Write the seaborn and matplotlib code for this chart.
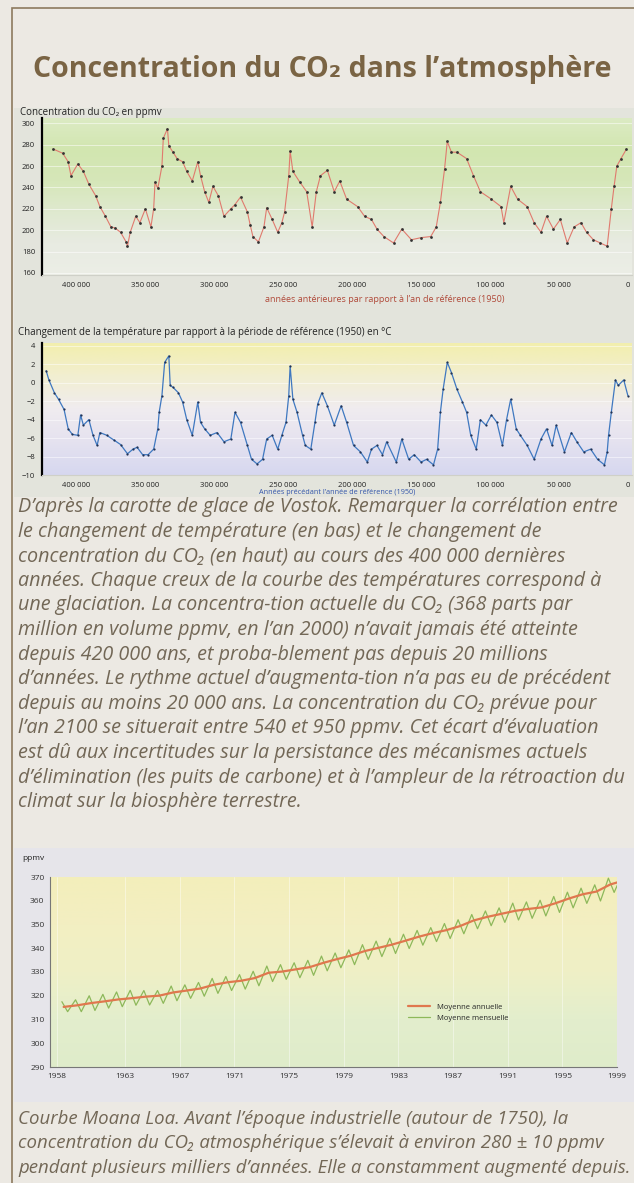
import numpy as np
import pandas as pd
import seaborn as sns
import matplotlib.pyplot as plt
from matplotlib.colors import LinearSegmentedColormap
from matplotlib.patches import Rectangle

sns.set_style("white")
plt.rcParams['font.family'] = ['Open Sans', 'DejaVu Sans']

# --- Vostok : CO2 (milliers d'années avant 1950, ppmv)
co2_age = [417, 410, 406, 404, 399, 395, 391, 386, 383, 379, 375, 372, 368, 364, 363, 361,
           357, 354, 350, 346, 344, 343, 341, 338, 337, 334, 333, 330, 327, 323, 320, 316,
           312, 310, 307, 304, 301, 297, 293, 288, 285, 281, 276, 274, 272, 268, 264, 262,
           258, 254, 251, 249, 246, 245, 243, 238, 233, 229, 226, 223, 218, 213, 209, 204,
           196, 191, 186, 182, 177, 170, 164, 157, 150, 143, 139, 136, 133, 131, 128, 124,
           117, 112, 107, 99, 92, 90, 85, 80, 73, 68, 63, 59, 54, 49, 44, 39,
           34, 30, 25, 20, 15, 12, 10, 8, 5, 1]
co2_ppmv = [276, 272, 264, 251, 262, 255, 243, 232, 222, 213, 203, 202, 198, 189, 185, 198,
            213, 207, 220, 203, 220, 245, 239, 260, 286, 295, 279, 273, 267, 264, 255, 246,
            264, 251, 236, 226, 241, 232, 213, 220, 224, 231, 217, 205, 194, 189, 203, 221,
            210, 198, 207, 217, 251, 274, 255, 245, 236, 203, 236, 251, 256, 236, 246, 229,
            222, 213, 210, 201, 194, 188, 201, 191, 193, 194, 203, 226, 257, 283, 273, 273,
            267, 251, 236, 229, 222, 207, 241, 229, 222, 207, 198, 213, 201, 210, 188, 203,
            207, 198, 191, 188, 185, 220, 241, 260, 267, 276]

# --- Vostok : écart de température (°C)
temp_age = [422, 420, 416, 413, 409, 406, 403, 399, 397, 395, 391, 388, 385, 383, 378, 373,
            368, 363, 359, 356, 352, 348, 344, 341, 340, 338, 336, 333, 332, 330, 326, 323,
            320, 316, 312, 310, 307, 303, 298, 293, 288, 285, 281, 276, 273, 269, 265, 262,
            258, 254, 251, 248, 246, 245, 243, 240, 236, 234, 230, 227, 225, 222, 218, 213,
            208, 204, 199, 194, 189, 186, 182, 178, 175, 168, 164, 159, 155, 150, 146, 141,
            138, 136, 134, 131, 128, 124, 120, 117, 114, 110, 107, 103, 99, 95, 91, 88,
            85, 81, 78, 73, 68, 63, 59, 55, 52, 46, 41, 37, 32, 27, 22, 17,
            15, 14, 12, 9, 7, 3, 0]
temp_delta = [1.3, 0.3, -1.1, -1.8, -2.9, -5.0, -5.6, -5.7, -3.5, -4.6, -4.0, -5.7, -6.8, -5.4, -5.7, -6.2,
              -6.7, -7.7, -7.2, -7.0, -7.8, -7.8, -7.2, -5.0, -3.2, -1.4, 2.2, 2.9, -0.3, -0.5, -1.1, -2.1,
              -4.0, -5.7, -2.1, -4.3, -5.0, -5.7, -5.4, -6.4, -6.1, -3.2, -4.3, -6.8, -8.3, -8.8, -8.3, -6.1,
              -5.7, -7.2, -5.7, -4.3, -1.4, 1.8, -1.8, -3.2, -5.7, -6.8, -7.2, -4.3, -2.3, -1.1, -2.5, -4.6,
              -2.5, -4.3, -6.8, -7.5, -8.6, -7.2, -6.8, -7.8, -6.4, -8.6, -6.1, -8.3, -7.8, -8.6, -8.3, -8.9,
              -7.2, -3.2, -0.7, 2.2, 1.1, -0.7, -2.1, -3.2, -5.7, -7.2, -4.0, -4.6, -3.5, -4.3, -6.8, -4.0,
              -1.8, -5.0, -5.7, -6.8, -8.3, -6.1, -5.0, -6.8, -4.6, -7.5, -5.4, -6.4, -7.5, -7.2, -8.3, -8.9,
              -7.5, -5.7, -3.2, 0.3, -0.3, 0.3, -1.4]

# --- Mauna Loa (ppmv)
ml_years = list(range(1958, 2000))
ml_annual = [315.3, 315.98, 316.91, 317.64, 318.45, 318.99, 319.62, 320.04, 321.37, 322.18,
             323.05, 324.62, 325.68, 326.32, 327.46, 329.68, 330.19, 331.12, 332.03, 333.84,
             335.41, 336.84, 338.76, 340.12, 341.48, 343.15, 344.87, 346.35, 347.61, 349.31,
             351.69, 353.20, 354.45, 355.70, 356.54, 357.21, 358.96, 360.97, 362.74, 363.88,
             366.84, 368.54]
ml_may = [317.5, 318.3, 320.0, 320.6, 321.6, 322.3, 322.2, 322.2, 324.1, 324.6,
          325.6, 327.3, 328.1, 328.9, 330.3, 332.5, 333.1, 333.9, 334.9, 336.7,
          338.0, 339.3, 341.5, 343.0, 344.2, 345.9, 347.5, 348.7, 350.4, 352.0,
          354.2, 355.7, 357.0, 359.0, 359.5, 360.2, 361.8, 363.6, 365.3, 366.7,
          369.5, 371.0]
ml_oct = [313.3, 313.3, 313.8, 314.8, 315.4, 316.0, 316.1, 316.8, 317.9, 318.9,
          319.8, 321.0, 322.2, 322.8, 324.2, 326.0, 326.9, 327.6, 328.6, 330.5,
          331.8, 333.1, 335.3, 336.5, 337.8, 339.9, 341.3, 342.8, 344.1, 346.1,
          348.2, 349.5, 350.9, 351.9, 352.6, 353.6, 355.1, 357.0, 358.9, 359.9,
          363.5, 364.6]
ml_ticks = [1958, 1963, 1967, 1971, 1975, 1979, 1983, 1987, 1991, 1995, 1999]

W, H = 634, 1183
fig = plt.figure(figsize=(W / 100, H / 100), dpi=100)
fig.patch.set_facecolor('#ece9e3')

def fx(x):
    return x / W

def fy(y):
    return 1 - y / H

def axes_px(x0, y0, x1, y1):
    return fig.add_axes([fx(x0), fy(y1), fx(x1 - x0), (y1 - y0) / H])

def gradient(ax, colors):
    # couleurs données de haut en bas
    cmap = LinearSegmentedColormap.from_list('bg', colors)
    g = np.linspace(0, 1, 256).reshape(-1, 1)
    ax.imshow(g, cmap=cmap, aspect='auto', extent=[0, 1, 0, 1], origin='upper',
              transform=ax.transAxes, zorder=0)

title_col = '#7a6444'
text_col = '#726756'

# cadre et fonds des images (derrière les axes)
fig.add_artist(Rectangle((fx(12), -0.01), 1, fy(8) + 0.01, fill=False, edgecolor='#8c7a5e',
                         lw=1.2, transform=fig.transFigure, zorder=-2))
fig.add_artist(Rectangle((fx(14), fy(497)), fx(620), (497 - 108) / H, facecolor='#e3e4dc',
                         edgecolor='none', transform=fig.transFigure, zorder=-1))
fig.add_artist(Rectangle((fx(14), fy(1102)), fx(620), (1102 - 848) / H, facecolor='#e6e5ea',
                         edgecolor='none', transform=fig.transFigure, zorder=-1))

fig.text(fx(322), fy(70), "Concentration du CO₂ dans l’atmosphère", ha='center', va='center',
         fontsize=20.5, fontweight='bold', color=title_col)

# ---- CO2 Vostok
ax1 = axes_px(42, 118, 632, 275)
gradient(ax1, ['#dcebc4', '#d2e6b0', '#d6e7b9', '#dfe9cf', '#e8ebe2', '#eceee6'])
co2 = pd.DataFrame({'age': np.array(co2_age) * 1000, 'ppmv': co2_ppmv})
sns.lineplot(data=co2, x='age', y='ppmv', ax=ax1, color='#e07a6e', lw=0.8,
             marker='o', markersize=2, markerfacecolor='#333333', markeredgecolor='none',
             sort=False)
ax1.set_xlim(425000, -3000)
ax1.set_ylim(158, 305)
ax1.set_yticks(range(160, 301, 20))
ax1.set_xticks(range(400000, -1, -50000))
ax1.set_xticklabels(['400 000', '350 000', '300 000', '250 000', '200 000', '150 000',
                     '100 000', '50 000', '0'])
for yv in range(160, 301, 20):
    ax1.axhline(yv, color='white', lw=0.6, alpha=0.6, zorder=0.5)
ax1.set_xlabel('')
ax1.set_ylabel('')
fig.text(fx(385), fy(300), "années antérieures par rapport à l’an de référence (1950)",
         fontsize=6.5, color='#b04a3a', ha='center', va='center')

# ---- Température Vostok
ax2 = axes_px(42, 343, 632, 475)
gradient(ax2, ['#f2eeac', '#f2efd0', '#f0ecef', '#e5e2f0', '#d6d7ef'])
tmp = pd.DataFrame({'age': np.array(temp_age) * 1000, 'dt': temp_delta})
sns.lineplot(data=tmp, x='age', y='dt', ax=ax2, color='#3f78c0', lw=0.9,
             marker='o', markersize=1.6, markerfacecolor='#223355', markeredgecolor='none',
             sort=False)
ax2.set_xlim(425000, -3000)
ax2.set_ylim(-10, 4.3)
ax2.set_yticks(range(-10, 5, 2))
ax2.set_xticks(range(400000, -1, -50000))
ax2.set_xticklabels(['400 000', '350 000', '300 000', '250 000', '200 000', '150 000',
                     '100 000', '50 000', '0'])
for yv in range(-10, 5, 2):
    ax2.axhline(yv, color='white', lw=0.6, alpha=0.6, zorder=0.5)
ax2.set_xlabel("Années précédant l’année de référence (1950)", fontsize=5.2,
               color='#3355aa', labelpad=0)
ax2.set_ylabel('')

for ax in (ax1, ax2):
    for s in ('top', 'right'):
        ax.spines[s].set_visible(False)
    ax.spines['left'].set_color('black')
    ax.spines['left'].set_linewidth(1.6)
    ax.spines['bottom'].set_color('#cfd0c8')
    ax.spines['bottom'].set_linewidth(0.8)
    ax.tick_params(axis='both', labelsize=5.5, length=3, width=0.8, pad=2, colors='#222222',
                   direction='out')

fig.text(fx(20), fy(112), "Concentration du CO₂ en ppmv", fontsize=7, va='center', color='#222222')
fig.text(fx(18), fy(333), "Changement de la température par rapport à la période de référence (1950) en °C",
         fontsize=7, va='center', color='#222222')

# ---- légende Vostok
caption1 = [
    "D’après la carotte de glace de Vostok. Remarquer la corrélation entre",
    "le changement de température (en bas) et le changement de",
    "concentration du CO₂ (en haut) au cours des 400 000 dernières",
    "années. Chaque creux de la courbe des températures correspond à",
    "une glaciation. La concentra-tion actuelle du CO₂ (368 parts par",
    "million en volume ppmv, en l’an 2000) n’avait jamais été atteinte",
    "depuis 420 000 ans, et proba-blement pas depuis 20 millions",
    "d’années. Le rythme actuel d’augmenta-tion n’a pas eu de précédent",
    "depuis au moins 20 000 ans. La concentration du CO₂ prévue pour",
    "l’an 2100 se situerait entre 540 et 950 ppmv. Cet écart d’évaluation",
    "est dû aux incertitudes sur la persistance des mécanismes actuels",
    "d’élimination (les puits de carbone) et à l’ampleur de la rétroaction du",
    "climat sur la biosphère terrestre.",
]
for i, line in enumerate(caption1):
    fig.text(fx(18), fy(507 + i * 24.6), line, fontsize=14.2, style='italic',
             color=text_col, va='center')

# ---- Mauna Loa
ax3 = axes_px(50, 877, 617, 1067)
gradient(ax3, ['#f3eebb', '#f3efc2', '#eff0c6', '#e3eecd', '#dfecca'])
annual = pd.DataFrame({'year': np.array(ml_years) + 0.5, 'ppmv': ml_annual})
monthly = pd.DataFrame({
    'year': np.ravel(np.column_stack([np.array(ml_years) + 0.37, np.array(ml_years) + 0.79])),
    'ppmv': np.ravel(np.column_stack([ml_may, ml_oct])),
})
sns.lineplot(data=monthly, x='year', y='ppmv', ax=ax3, color='#8db85a', lw=0.9,
             label='Moyenne mensuelle')
sns.lineplot(data=annual, x='year', y='ppmv', ax=ax3, color='#e0774e', lw=1.6,
             label='Moyenne annuelle')
ax3.set_xlim(1957.5, 1998.8)
ax3.set_ylim(290, 370)
ax3.set_yticks(range(290, 371, 10))
ax3.set_xticks(ml_ticks)
ax3.set_xticks(range(1958, 1999), minor=True)
for xv in ml_ticks:
    ax3.axvline(xv, color='white', lw=0.6, alpha=0.5, zorder=0.5)
ax3.set_xlabel('')
ax3.set_ylabel('')
for s in ('top', 'right'):
    ax3.spines[s].set_visible(False)
for s in ('left', 'bottom'):
    ax3.spines[s].set_color('#777777')
    ax3.spines[s].set_linewidth(0.8)
ax3.tick_params(axis='both', which='major', labelsize=6, length=4, width=0.8, pad=2,
                colors='#333333', direction='inout')
ax3.tick_params(axis='x', which='minor', length=3, width=0.6, direction='inout', colors='#555555')
h, l = ax3.get_legend_handles_labels()
ax3.legend(h[::-1], l[::-1], loc='lower right', bbox_to_anchor=(0.82, 0.2), frameon=False,
           fontsize=5.5, handlelength=3)
fig.text(fx(22), fy(858), "ppmv", fontsize=6, va='center', color='#222222')

caption2 = [
    "Courbe Moana Loa. Avant l’époque industrielle (autour de 1750), la",
    "concentration du CO₂ atmosphérique s’élevait à environ 280 ± 10 ppmv",
    "pendant plusieurs milliers d’années. Elle a constamment augmenté depuis.",
]
for i, line in enumerate(caption2):
    fig.text(fx(18), fy(1119 + i * 24.4), line, fontsize=13.4, style='italic',
             color=text_col, va='center')

fig.savefig('out.png', dpi=100, facecolor=fig.get_facecolor())
